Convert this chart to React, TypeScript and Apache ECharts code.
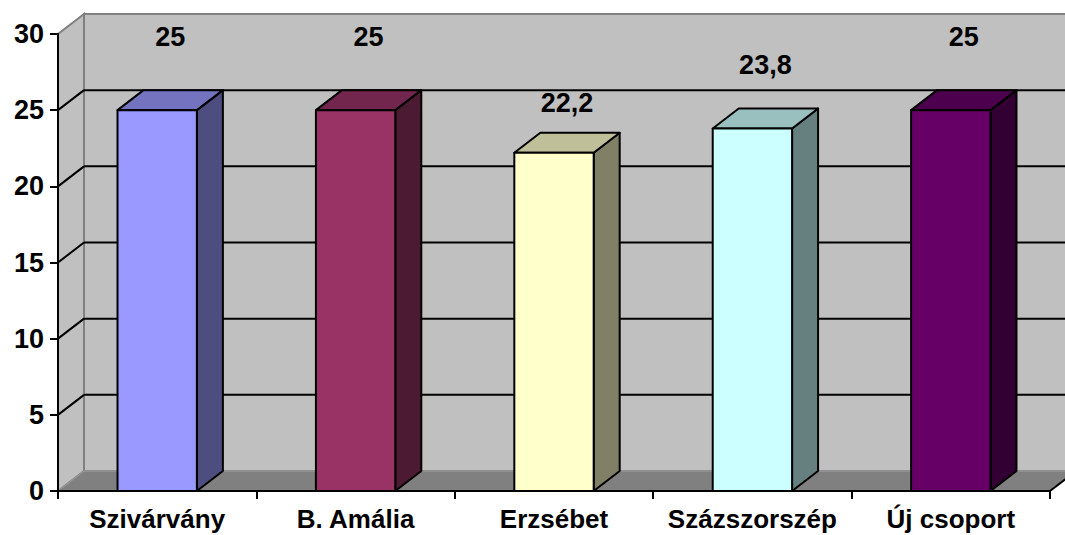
import React, { useEffect, useRef } from "react";
import * as echarts from "echarts";

const categories = ["Szivárvány", "B. Amália", "Erzsébet", "Százszorszép", "Új csoport"];
const values = [25, 25, 22.2, 23.8, 25];
const valueLabels = ["25", "25", "22,2", "23,8", "25"];
const yTicks = [0, 5, 10, 15, 20, 25, 30];

const frontColors = ["#9999FF", "#993366", "#FFFFCC", "#CCFFFF", "#660066"];
const topColors = ["#7373BF", "#73264D", "#BFBF99", "#99BFBF", "#4D004D"];
const sideColors = ["#4D4D80", "#4D1A33", "#808066", "#668080", "#330033"];

const DX = 26;
const DY = -20;
const FONT = "'Liberation Sans', Arial, sans-serif";

export default function App() {
  const ref = useRef<HTMLDivElement>(null);
  useEffect(() => {
    if (!ref.current) return;
    const chart = echarts.init(ref.current, null, { renderer: "svg" });

    const wallsRender = (params: any, api: any) => {
      const cs = params.coordSys;
      const L = cs.x, R = cs.x + cs.width, T = cs.y, B = cs.y + cs.height;
      const children: any[] = [];
      children.push({
        type: "rect",
        shape: { x: L + DX, y: T + DY, width: R - L, height: B - T },
        style: { fill: "#C0C0C0", stroke: "#808080", lineWidth: 2 },
      });
      children.push({
        type: "polygon",
        shape: { points: [[L, B], [L + DX, B + DY], [L + DX, T + DY], [L, T]] },
        style: { fill: "#C0C0C0", stroke: "#808080", lineWidth: 2 },
      });
      children.push({
        type: "polygon",
        shape: { points: [[L, B], [R, B], [R + DX, B + DY], [L + DX, B + DY]] },
        style: { fill: "#808080", stroke: "#A0A0A0", lineWidth: 1 },
      });
      children.push({
        type: "line",
        shape: { x1: R, y1: B, x2: R + DX, y2: B + DY },
        style: { stroke: "#000", lineWidth: 2 },
      });
      yTicks.forEach((t) => {
        if (t === 0 || t === 30) return;
        const p = api.coord([0, t]);
        const y = p[1];
        children.push({
          type: "line",
          shape: { x1: L, y1: y, x2: L + DX, y2: y + DY },
          style: { stroke: "#000", lineWidth: 2 },
        });
        children.push({
          type: "line",
          shape: { x1: L + DX, y1: y + DY, x2: R + DX, y2: y + DY },
          style: { stroke: "#000", lineWidth: 2 },
        });
      });
      return { type: "group", children };
    };

    const barsRender = (params: any, api: any) => {
      const i = api.value(0);
      const v = api.value(1);
      const base = api.coord([i, 0]);
      const top = api.coord([i, v]);
      const bw = api.size([1, 0])[0] * 0.4;
      const x0 = base[0] - bw / 2;
      const x1 = base[0] + bw / 2;
      const yb = base[1];
      const yt = top[1];
      const idx = params.dataIndex;
      const stroke = { stroke: "#000", lineWidth: 2, lineJoin: "round" };
      const labelY = yt + DY - 30 - (v - 22.2) * 8.2;
      return {
        type: "group",
        children: [
          {
            type: "polygon",
            shape: { points: [[x1, yt], [x1 + DX, yt + DY], [x1 + DX, yb + DY], [x1, yb]] },
            style: { fill: sideColors[idx], ...stroke },
          },
          {
            type: "polygon",
            shape: { points: [[x0, yt], [x1, yt], [x1 + DX, yt + DY], [x0 + DX, yt + DY]] },
            style: { fill: topColors[idx], ...stroke },
          },
          {
            type: "rect",
            shape: { x: x0, y: yt, width: bw, height: yb - yt },
            style: { fill: frontColors[idx], ...stroke },
          },
          {
            type: "text",
            style: {
              text: valueLabels[idx],
              x: base[0] + DX / 2,
              y: labelY,
              align: "center",
              verticalAlign: "middle",
              fontSize: 27,
              fontWeight: "bold",
              fontFamily: FONT,
              fill: "#000",
            },
          },
        ],
      };
    };

    chart.setOption({
      animation: false,
      backgroundColor: "#FFFFFF",
      grid: { left: 58, right: 15, top: 34, bottom: 44 },
      xAxis: {
        type: "category",
        data: categories,
        boundaryGap: true,
        axisLine: { show: true, lineStyle: { color: "#000", width: 2 } },
        axisTick: { show: true, length: 8, lineStyle: { color: "#000", width: 2 } },
        axisLabel: {
          margin: 15,
          color: "#000",
          fontSize: 26,
          fontWeight: "bold",
          fontFamily: FONT,
          interval: 0,
        },
        z: 5,
      },
      yAxis: {
        type: "value",
        min: 0,
        max: 30,
        interval: 5,
        splitLine: { show: false },
        axisLine: { show: true, lineStyle: { color: "#000", width: 2 } },
        axisTick: { show: true, length: 8, lineStyle: { color: "#000", width: 2 } },
        axisLabel: {
          margin: 14,
          color: "#000",
          fontSize: 27,
          fontWeight: "bold",
          fontFamily: FONT,
        },
        z: 5,
      },
      series: [
        {
          type: "custom",
          z: 0,
          clip: false,
          silent: true,
          renderItem: wallsRender,
          data: [[0, 0]],
          encode: { x: 0, y: 1 },
        },
        {
          type: "custom",
          z: 3,
          clip: false,
          renderItem: barsRender,
          data: values.map((v, i) => [i, v]),
          encode: { x: 0, y: 1 },
        },
      ],
    });
    return () => chart.dispose();
  }, []);
  return (
    <div
      ref={ref}
      style={{ position: "absolute", left: 0, top: 0, width: 1065, height: 535 }}
    />
  );
}
